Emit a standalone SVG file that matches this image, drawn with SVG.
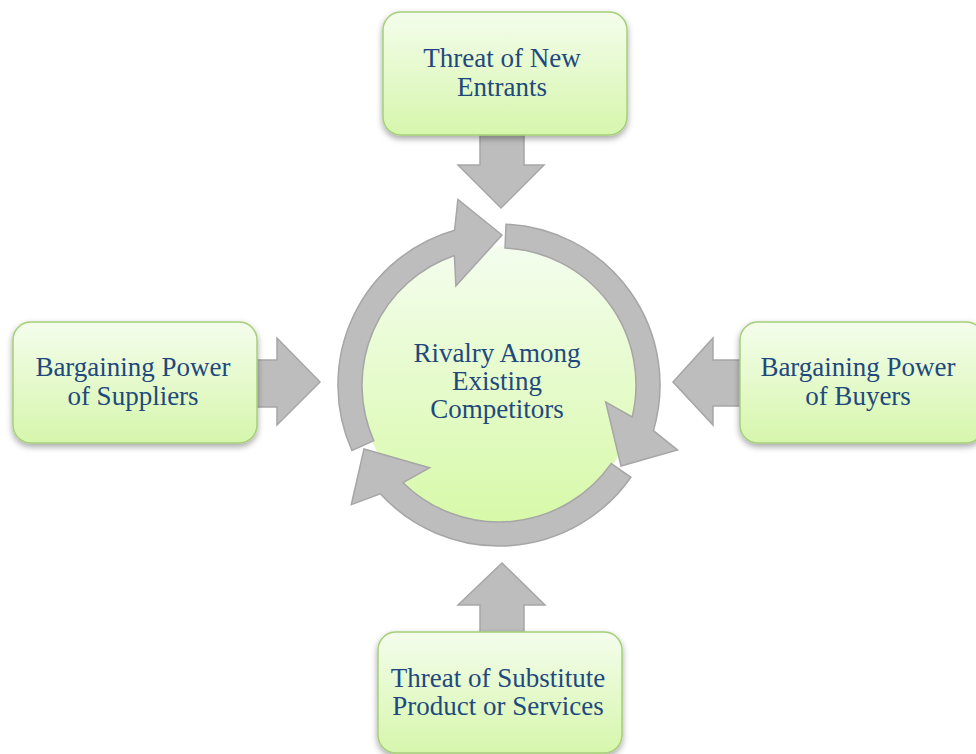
<svg xmlns="http://www.w3.org/2000/svg" width="976" height="754" viewBox="0 0 976 754">
  <defs>
    <linearGradient id="boxGrad" x1="0" y1="0" x2="0" y2="1">
      <stop offset="0" stop-color="#F4FDEC"/>
      <stop offset="1" stop-color="#D6F6AC"/>
    </linearGradient>
    <linearGradient id="circGrad" x1="0" y1="0" x2="0" y2="1">
      <stop offset="0" stop-color="#F4FDEE"/>
      <stop offset="1" stop-color="#D7F9A8"/>
    </linearGradient>
    <filter id="shadow" x="-10%" y="-10%" width="120%" height="130%">
      <feDropShadow dx="0" dy="3" stdDeviation="3" flood-color="#000" flood-opacity="0.35"/>
    </filter>
  </defs>
  <style>
    .box { fill: url(#boxGrad); stroke: #A5CF78; stroke-width: 1.5; filter: url(#shadow); }
    .arr { fill: #BDBDBD; stroke: #A6A6A6; stroke-width: 1.5; stroke-linejoin: miter; }
    .lbl { font-family: "Liberation Serif", "Times New Roman", serif; font-size: 27px; fill: #1F497D; text-anchor: middle; }
  </style>

  <rect width="976" height="754" fill="#FFFFFF"/>

  <g id="connectors">
    <path class="arr" d="M480,130 L524,130 L524,165 L544,165 L501,208 L458,165 L480,165 Z"/>
    <path class="arr" d="M252,360 L277,360 L277,338 L320,382 L277,425 L277,407 L252,407 Z"/>
    <path class="arr" d="M745,360 L713,360 L713,338 L673,382 L713,425 L713,406 L745,406 Z"/>
    <path class="arr" d="M480,637 L480,605 L458,605 L502,563 L545,605 L524,605 L524,637 Z"/>
  </g>

  <g id="rivalry">
    <circle cx="499" cy="385" r="139" fill="url(#circGrad)"/>
    <path class="arr" d="M506.0,224.2 A161,161 0 0 1 653.4,430.7 L677.5,450.0 L621,466 L605.7,401.9 L632.2,417.0 A137,137 0 0 0 505.0,248.1 Z"/>
    <path class="arr" d="M630.9,477.3 A161,161 0 0 1 380.3,493.8 L351.3,504.6 L364,449 L429.6,467.7 L403.0,482.7 A137,137 0 0 0 611.2,463.6 Z"/>
    <path class="arr" d="M351.9,450.5 A161,161 0 0 1 454.6,230.2 L457.9,199.5 L502,235 L455.9,286.0 L454.4,255.5 A137,137 0 0 0 373.8,440.7 Z"/>
    <text class="lbl" x="497" y="362">Rivalry Among</text>
    <text class="lbl" x="497" y="390">Existing</text>
    <text class="lbl" x="497" y="418">Competitors</text>
  </g>

  <g id="new-entrants">
    <rect class="box" x="383" y="12" width="244" height="123" rx="18"/>
    <text class="lbl" x="502" y="67">Threat of New</text>
    <text class="lbl" x="502" y="96">Entrants</text>
  </g>

  <g id="suppliers">
    <rect class="box" x="13" y="322" width="244" height="121" rx="18"/>
    <text class="lbl" x="133" y="376">Bargaining Power</text>
    <text class="lbl" x="133" y="405">of Suppliers</text>
  </g>

  <g id="buyers">
    <rect class="box" x="740" y="322" width="244" height="121" rx="18"/>
    <text class="lbl" x="858" y="376">Bargaining Power</text>
    <text class="lbl" x="858" y="405">of Buyers</text>
  </g>

  <g id="substitutes">
    <rect class="box" x="378" y="632" width="244" height="121" rx="18"/>
    <text class="lbl" x="498" y="687">Threat of Substitute</text>
    <text class="lbl" x="498" y="715">Product or Services</text>
  </g>
</svg>
